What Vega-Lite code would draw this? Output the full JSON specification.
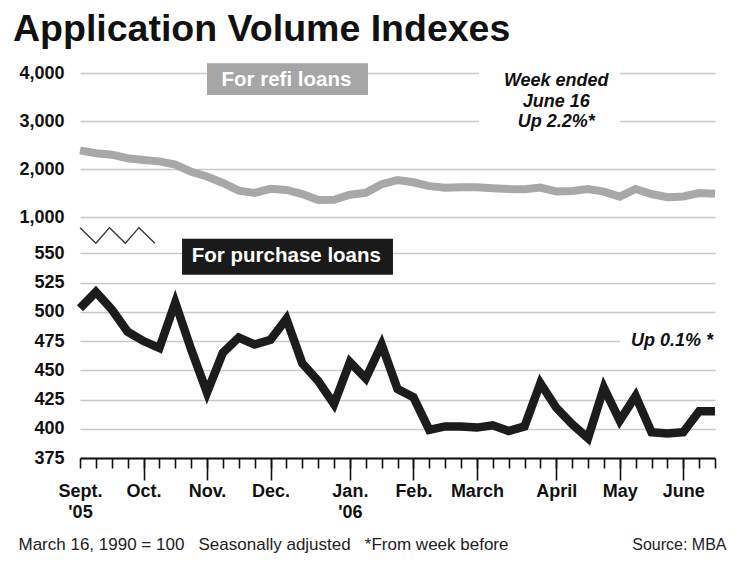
{
  "$schema": "https://vega.github.io/schema/vega-lite/v6.json",
  "background": "white",
  "padding": {"left": 13, "top": 11, "right": 5, "bottom": 5},
  "title": {
    "text": "Application Volume Indexes",
    "anchor": "start",
    "font": "Liberation Sans, Arial, sans-serif",
    "fontSize": 37.5,
    "fontWeight": "bold",
    "color": "#111111",
    "offset": 14.5,
    "dx": -5
  },
  "datasets": {
    "weekly": [
      {"date": "2005-09-09", "refi": 2390, "purchase": 503},
      {"date": "2005-09-16", "refi": 2330, "purchase": 517},
      {"date": "2005-09-23", "refi": 2300, "purchase": 502},
      {"date": "2005-09-30", "refi": 2225, "purchase": 483},
      {"date": "2005-10-07", "refi": 2190, "purchase": 475},
      {"date": "2005-10-14", "refi": 2160, "purchase": 469},
      {"date": "2005-10-21", "refi": 2095, "purchase": 508},
      {"date": "2005-10-28", "refi": 1945, "purchase": 468},
      {"date": "2005-11-04", "refi": 1845, "purchase": 431},
      {"date": "2005-11-11", "refi": 1710, "purchase": 465},
      {"date": "2005-11-18", "refi": 1550, "purchase": 478},
      {"date": "2005-11-25", "refi": 1505, "purchase": 472},
      {"date": "2005-12-02", "refi": 1590, "purchase": 476},
      {"date": "2005-12-09", "refi": 1565, "purchase": 494},
      {"date": "2005-12-16", "refi": 1480, "purchase": 456},
      {"date": "2005-12-23", "refi": 1355, "purchase": 441},
      {"date": "2005-12-30", "refi": 1360, "purchase": 421},
      {"date": "2006-01-06", "refi": 1465, "purchase": 457},
      {"date": "2006-01-13", "refi": 1505, "purchase": 443},
      {"date": "2006-01-20", "refi": 1685, "purchase": 472},
      {"date": "2006-01-27", "refi": 1770, "purchase": 434},
      {"date": "2006-02-03", "refi": 1725, "purchase": 427},
      {"date": "2006-02-10", "refi": 1645, "purchase": 399},
      {"date": "2006-02-17", "refi": 1610, "purchase": 402},
      {"date": "2006-02-24", "refi": 1620, "purchase": 402},
      {"date": "2006-03-03", "refi": 1620, "purchase": 401},
      {"date": "2006-03-10", "refi": 1600, "purchase": 403},
      {"date": "2006-03-17", "refi": 1585, "purchase": 398},
      {"date": "2006-03-24", "refi": 1580, "purchase": 402},
      {"date": "2006-03-31", "refi": 1615, "purchase": 439},
      {"date": "2006-04-07", "refi": 1535, "purchase": 418},
      {"date": "2006-04-14", "refi": 1545, "purchase": 404},
      {"date": "2006-04-21", "refi": 1585, "purchase": 392},
      {"date": "2006-04-28", "refi": 1530, "purchase": 435},
      {"date": "2006-05-05", "refi": 1425, "purchase": 407},
      {"date": "2006-05-12", "refi": 1585, "purchase": 428},
      {"date": "2006-05-19", "refi": 1480, "purchase": 397},
      {"date": "2006-05-26", "refi": 1415, "purchase": 396},
      {"date": "2006-06-02", "refi": 1430, "purchase": 397},
      {"date": "2006-06-09", "refi": 1500, "purchase": 415},
      {"date": "2006-06-16", "refi": 1485, "purchase": 415}
    ],
    "brk": [
      {"date": "2005-09-09", "value": 780},
      {"date": "2005-09-16", "value": 455},
      {"date": "2005-09-22", "value": 780},
      {"date": "2005-09-29", "value": 455},
      {"date": "2005-10-05", "value": 780},
      {"date": "2005-10-12", "value": 455}
    ]
  },
  "spacing": 0,
  "bounds": "flush",
  "vconcat": [
    {
      "width": 635,
      "height": 171,
      "layer": [
        {
          "data": {"values": [{}]},
          "mark": {"type": "rect", "color": "white"},
          "encoding": {
            "x": {"datum": {"year": 2006, "month": 3, "date": 4, "utc": true}, "type": "temporal", "scale": {"type": "utc", "domain": [1126224000000, 1150416000000], "nice": false}, "axis": null},
            "x2": {"datum": {"year": 2006, "month": 5, "date": 5, "utc": true}},
            "y": {"datum": 4190, "type": "quantitative", "scale": {"domain": [440, 4000], "nice": false, "zero": false}, "axis": {"values": [1000, 2000, 3000, 4000], "format": ",d", "title": null, "grid": true}},
            "y2": {"datum": 2708}
          }
        },
        {
          "data": {"values": [{}]},
          "mark": {"type": "rect", "color": "#a6a6a6", "clip": false},
          "encoding": {
            "x": {"datum": {"year": 2005, "month": 11, "date": 4, "utc": true}, "type": "temporal", "axis": null},
            "x2": {"datum": {"year": 2006, "month": 1, "date": 14, "utc": true}},
            "y": {"datum": 4202, "type": "quantitative", "axis": {"values": [1000, 2000, 3000, 4000], "format": ",d", "title": null, "grid": true}},
            "y2": {"datum": 3542}
          }
        },
        {
          "data": {"values": [{}]},
          "mark": {"type": "text", "color": "white", "font": "Liberation Sans, Arial, sans-serif", "fontSize": 20.5, "fontWeight": "bold", "align": "center", "baseline": "alphabetic"},
          "encoding": {
            "x": {"datum": {"year": 2005, "month": 12, "date": 9, "utc": true}, "type": "temporal", "axis": null},
            "y": {"datum": 3730, "type": "quantitative", "axis": {"values": [1000, 2000, 3000, 4000], "format": ",d", "title": null, "grid": true}},
            "text": {"value": "For refi loans"}
          }
        },
        {
          "data": {"values": [{}]},
          "mark": {"type": "text", "color": "#111111", "font": "Liberation Sans, Arial, sans-serif", "fontSize": 18, "fontWeight": "bold", "fontStyle": "italic", "align": "center", "baseline": "alphabetic", "lineHeight": 20.5},
          "encoding": {
            "x": {"datum": {"year": 2006, "month": 4, "date": 7, "utc": true}, "type": "temporal", "axis": null},
            "y": {"datum": 3729, "type": "quantitative", "axis": {"values": [1000, 2000, 3000, 4000], "format": ",d", "title": null, "grid": true}},
            "text": {"value": ["Week ended", "June 16", "Up 2.2%*"]}
          }
        },
        {
          "data": {"name": "brk"},
          "mark": {"type": "line", "color": "#333333", "strokeWidth": 1.3, "clip": false},
          "encoding": {
            "x": {"field": "date", "type": "temporal", "axis": null},
            "y": {"field": "value", "type": "quantitative", "title": null, "axis": {"values": [1000, 2000, 3000, 4000], "format": ",d", "title": null, "grid": true}}
          }
        },
        {
          "data": {"name": "weekly"},
          "mark": {"type": "line", "color": "#a8a8a8", "strokeWidth": 8, "strokeJoin": "miter"},
          "encoding": {
            "x": {"field": "date", "type": "temporal", "axis": null},
            "y": {"field": "refi", "type": "quantitative", "title": null, "axis": {"values": [1000, 2000, 3000, 4000], "format": ",d", "title": null, "grid": true}}
          }
        }
      ]
    },
    {
      "width": 635,
      "height": 214,
      "layer": [
        {
          "data": {"values": [{}]},
          "mark": {"type": "rect", "color": "white"},
          "encoding": {
            "x": {"datum": {"year": 2006, "month": 5, "date": 5, "utc": true}, "type": "temporal", "scale": {"type": "utc", "domain": [1126224000000, 1150416000000], "nice": false}, "axis": null},
            "x2": {"datum": {"year": 2006, "month": 6, "date": 16, "utc": true}},
            "y": {"datum": 486.7, "type": "quantitative", "scale": {"domain": [375, 558], "nice": false, "zero": false}, "axis": {"values": [375, 400, 425, 450, 475, 500, 525, 550], "format": "d", "title": null, "grid": true}},
            "y2": {"datum": 465.4}
          }
        },
        {
          "data": {"values": [{}]},
          "mark": {"type": "text", "color": "#111111", "font": "Liberation Sans, Arial, sans-serif", "fontSize": 18, "fontWeight": "bold", "fontStyle": "italic", "align": "right", "baseline": "alphabetic", "dx": -2},
          "encoding": {
            "x": {"datum": {"year": 2006, "month": 6, "date": 16, "utc": true}, "type": "temporal", "axis": null},
            "y": {"datum": 470.7, "type": "quantitative", "axis": {"values": [375, 400, 425, 450, 475, 500, 525, 550], "format": "d", "title": null, "grid": true}},
            "text": {"value": "Up 0.1% *"}
          }
        },
        {
          "data": {"name": "weekly"},
          "mark": {"type": "line", "color": "#1c1c1c", "strokeWidth": 8.5, "strokeJoin": "miter"},
          "encoding": {
            "x": {
              "field": "date",
              "type": "temporal",
              "axis": {
                "orient": "bottom",
                "values": [1126224000000, 1126828800000, 1127433600000, 1128038400000, 1128643200000, 1129248000000, 1129852800000, 1130457600000, 1131062400000, 1131667200000, 1132272000000, 1132876800000, 1133481600000, 1134086400000, 1134691200000, 1135296000000, 1135900800000, 1136505600000, 1137110400000, 1137715200000, 1138320000000, 1138924800000, 1139529600000, 1140134400000, 1140739200000, 1141344000000, 1141948800000, 1142553600000, 1143158400000, 1143763200000, 1144368000000, 1144972800000, 1145577600000, 1146182400000, 1146787200000, 1147392000000, 1147996800000, 1148601600000, 1149206400000, 1149811200000, 1150416000000],
                "labels": false,
                "ticks": true,
                "tickSize": 10,
                "tickWidth": 1.6,
                "tickColor": "#111111",
                "domain": true,
                "domainColor": "#111111",
                "domainWidth": 2.2,
                "grid": false,
                "title": "March 16, 1990 = 100 \u00a0 Seasonally adjusted \u00a0 *From week before",
                "titleFont": "Liberation Sans, Arial, sans-serif",
                "titleFontSize": 17,
                "titleFontWeight": "normal",
                "titleColor": "#222222",
                "titleAlign": "left",
                "titleAnchor": "start",
                "titleBaseline": "alphabetic",
                "titleX": -62,
                "titleY": 91
              }
            },
            "y": {"field": "purchase", "type": "quantitative", "title": null, "axis": {"values": [375, 400, 425, 450, 475, 500, 525, 550], "format": "d", "title": null, "grid": true}}
          }
        },
        {
          "data": {"values": [{}]},
          "mark": {"type": "rect", "color": "#1a1a1a", "clip": false},
          "encoding": {
            "x": {
              "datum": {"year": 2005, "month": 10, "date": 24, "utc": true},
              "type": "temporal",
              "axis": {
                "orient": "bottom",
                "values": [1126224000000, 1128643200000, 1131062400000, 1133481600000, 1136505600000, 1138924800000, 1141344000000, 1144368000000, 1146787200000, 1149206400000],
                "domain": false,
                "grid": false,
                "ticks": true,
                "tickSize": 22,
                "tickWidth": 1.6,
                "tickColor": "#111111",
                "tickOpacity": {"condition": {"test": "utcmonth(datum.value) == 8", "value": 0}, "value": 1},
                "labelExpr": "utcmonth(datum.value) == 8 ? ['Sept.', \"'05\"] : utcmonth(datum.value) == 0 ? ['Jan.', \"'06\"] : ['Jan.','Feb.','March','April','May','June','July','Aug.','Sept.','Oct.','Nov.','Dec.'][utcmonth(datum.value)]",
                "labelFont": "Liberation Sans, Arial, sans-serif",
                "labelFontSize": 18,
                "labelFontWeight": "bold",
                "labelColor": "#111111",
                "labelPadding": 2,
                "labelLineHeight": 21.5,
                "labelBaseline": "top",
                "labelAlign": "center",
                "labelFlush": false,
                "labelOverlap": false,
                "title": "Source: MBA",
                "titleFont": "Liberation Sans, Arial, sans-serif",
                "titleFontSize": 16,
                "titleFontWeight": "normal",
                "titleColor": "#222222",
                "titleAlign": "right",
                "titleBaseline": "alphabetic",
                "titleX": 646,
                "titleY": 91
              }
            },
            "x2": {"datum": {"year": 2006, "month": 1, "date": 25, "utc": true}},
            "y": {"datum": 562.5, "type": "quantitative", "axis": {"values": [375, 400, 425, 450, 475, 500, 525, 550], "format": "d", "title": null, "grid": true}},
            "y2": {"datum": 531.7}
          }
        },
        {
          "data": {"values": [{}]},
          "mark": {"type": "text", "color": "white", "font": "Liberation Sans, Arial, sans-serif", "fontSize": 20.5, "fontWeight": "bold", "align": "center", "baseline": "alphabetic"},
          "encoding": {
            "x": {"datum": {"year": 2005, "month": 12, "date": 9, "utc": true}, "type": "temporal", "axis": null},
            "y": {"datum": 542.5, "type": "quantitative", "axis": {"values": [375, 400, 425, 450, 475, 500, 525, 550], "format": "d", "title": null, "grid": true}},
            "text": {"value": "For purchase loans"}
          }
        }
      ],
      "resolve": {"axis": {"x": "independent"}}
    }
  ],
  "config": {
    "view": {"stroke": null},
    "axisY": {
      "domain": false,
      "ticks": false,
      "tickSize": 0,
      "labelPadding": 16,
      "labelFont": "Liberation Sans, Arial, sans-serif",
      "labelFontSize": 18,
      "labelFontWeight": "bold",
      "labelColor": "#111111",
      "labelBaseline": "middle",
      "labelOverlap": false,
      "labelFlush": false,
      "gridColor": "#c8c8c8",
      "gridWidth": 1.6,
      "gridOpacity": 1
    }
  }
}
